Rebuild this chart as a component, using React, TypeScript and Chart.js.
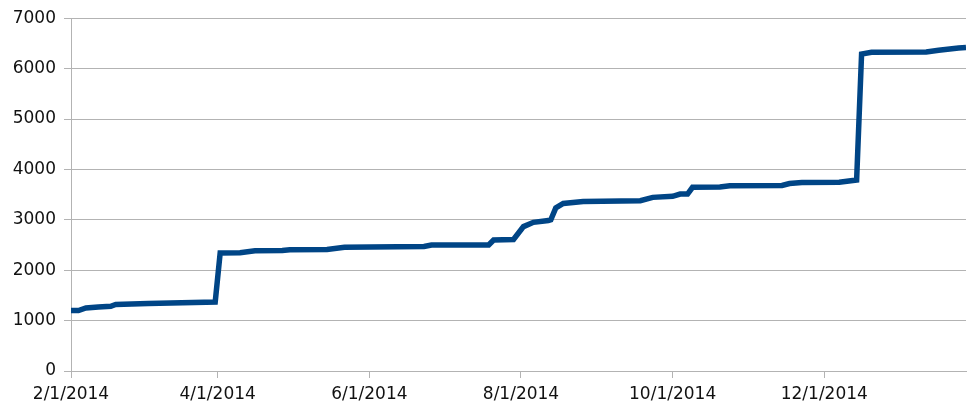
import React, { useEffect, useRef } from "react";
import { Chart, registerables } from "chart.js";

Chart.register(...registerables);

// Days since 2/1/2014
const dayOffsets = [
  0, 3, 6, 11, 16, 18, 31, 58, 60, 68, 74, 85, 88, 103, 110, 142, 145, 168, 170, 178,
  182, 186, 192, 193, 195, 198, 206, 229, 234, 242, 245, 248, 250, 261, 265, 286, 289,
  294, 309, 316, 318, 322, 344, 349, 357, 360,
];
const seriesValues = [
  1200, 1200, 1250, 1270, 1285, 1320, 1340, 1370, 2340, 2345, 2385, 2390, 2405, 2410, 2455,
  2470, 2500, 2500, 2600, 2610, 2865, 2950, 2985, 3000, 3235, 3325, 3365, 3380, 3445, 3465,
  3510, 3510, 3645, 3650, 3675, 3680, 3720, 3740, 3745, 3790, 6290, 6325, 6330, 6365, 6410,
  6420,
];
const xTickDays = [0, 59, 120, 181, 242, 303];
const xTickLabels = ["2/1/2014", "4/1/2014", "6/1/2014", "8/1/2014", "10/1/2014", "12/1/2014"];
const yTickValues = [0, 1000, 2000, 3000, 4000, 5000, 6000, 7000];
const yTickLabels = ["0", "1000", "2000", "3000", "4000", "5000", "6000", "7000"];

export default function App() {
  const ref = useRef<HTMLCanvasElement>(null);
  useEffect(() => {
    if (!ref.current) return;
    const chart = new Chart(ref.current, {
      type: "line",
      data: {
        datasets: [
          {
            data: dayOffsets.map((d, i) => ({ x: d, y: seriesValues[i] })),
            borderColor: "#004586",
            borderWidth: 5.5,
            pointRadius: 0,
            tension: 0,
            fill: false,
          },
        ],
      },
      options: {
        animation: false,
        responsive: false,
        maintainAspectRatio: false,
        layout: { padding: { top: 17, right: 3, left: 0, bottom: 0 } },
        plugins: { legend: { display: false }, tooltip: { enabled: false } },
        scales: {
          x: {
            type: "linear",
            min: 0,
            max: 360,
            afterBuildTicks: (scale: any) => {
              scale.ticks = xTickDays.map((v) => ({ value: v }));
            },
            afterFit: (scale: any) => {
              scale.height = 40;
            },
            ticks: {
              autoSkip: false,
              maxRotation: 0,
              padding: 6,
              color: "#111",
              font: { family: "DejaVu Sans", size: 17 },
              callback: (v: any) => {
                const i = xTickDays.indexOf(Number(v));
                return i >= 0 ? xTickLabels[i] : "";
              },
            },
            grid: {
              drawOnChartArea: false,
              drawTicks: true,
              tickLength: 7,
              color: "#b3b3b3",
            },
            border: { color: "#b3b3b3", width: 1 },
          },
          y: {
            min: 0,
            max: 7000,
            afterBuildTicks: (scale: any) => {
              scale.ticks = yTickValues.map((v) => ({ value: v }));
            },
            afterFit: (scale: any) => {
              scale.width = 71;
            },
            ticks: {
              padding: 8,
              color: "#111",
              font: { family: "DejaVu Sans", size: 17 },
              callback: (v: any) => {
                const i = yTickValues.indexOf(Number(v));
                return i >= 0 ? yTickLabels[i] : "";
              },
            },
            grid: {
              color: "#b3b3b3",
              tickLength: 7,
              lineWidth: 1,
            },
            border: { color: "#b3b3b3", width: 1 },
          },
        },
      },
    });
    return () => chart.destroy();
  }, []);
  return (
    <div style={{ position: "fixed", left: 0, top: 0, width: 969, height: 411, background: "#fff" }}>
      <canvas ref={ref} width={969} height={411} style={{ display: "block" }} />
    </div>
  );
}
